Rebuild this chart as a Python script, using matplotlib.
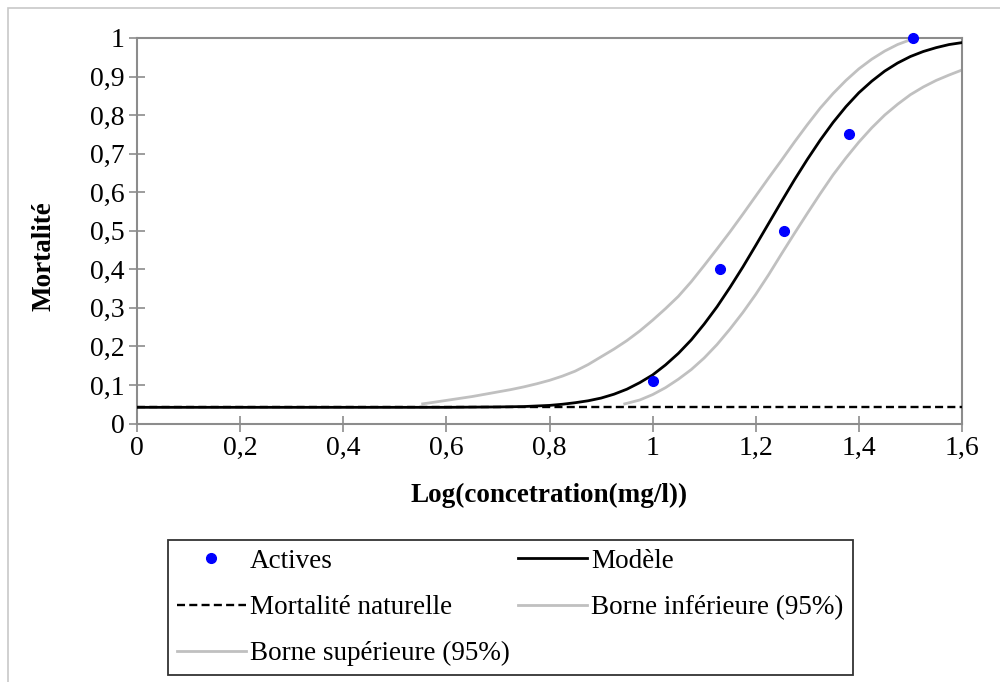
import matplotlib
matplotlib.use("Agg")
import matplotlib.pyplot as plt
from matplotlib.patches import Rectangle

plt.rcParams['font.family'] = ['Liberation Serif', 'DejaVu Serif']

# --- données ---
x_actives = [1.0, 1.130, 1.255, 1.380, 1.505]
y_actives = [0.111, 0.40, 0.50, 0.75, 1.0]

x_modele = [0.0, 0.60, 0.70, 0.75, 0.80, 0.825, 0.85, 0.875, 0.90, 0.925, 0.95, 0.975,
            1.00, 1.025, 1.05, 1.075, 1.10, 1.125, 1.15, 1.175, 1.20, 1.225, 1.25, 1.275,
            1.30, 1.325, 1.35, 1.375, 1.40, 1.425, 1.45, 1.475, 1.50, 1.525, 1.55, 1.575, 1.60]
y_modele = [0.042, 0.042, 0.043, 0.044, 0.047, 0.050, 0.054, 0.059, 0.066, 0.076, 0.089, 0.106,
            0.126, 0.152, 0.182, 0.217, 0.258, 0.303, 0.353, 0.406, 0.462, 0.519, 0.576, 0.632,
            0.685, 0.735, 0.781, 0.822, 0.858, 0.888, 0.914, 0.935, 0.952, 0.965, 0.975, 0.983, 0.988]

x_naturelle = [0.0, 1.6]
y_naturelle = [0.042, 0.042]

x_inf = [0.946, 0.975, 1.00, 1.025, 1.05, 1.075, 1.10, 1.125, 1.15, 1.175, 1.20, 1.225, 1.25,
         1.275, 1.30, 1.325, 1.35, 1.375, 1.40, 1.425, 1.45, 1.475, 1.50, 1.525, 1.55, 1.575, 1.60]
y_inf = [0.051, 0.061, 0.075, 0.093, 0.115, 0.140, 0.170, 0.205, 0.245, 0.288, 0.335, 0.386, 0.440,
         0.493, 0.545, 0.596, 0.645, 0.689, 0.730, 0.767, 0.800, 0.828, 0.853, 0.873, 0.890, 0.904, 0.917]

x_sup = [0.554, 0.575, 0.60, 0.625, 0.65, 0.675, 0.70, 0.725, 0.75, 0.775, 0.80, 0.825, 0.85,
         0.875, 0.90, 0.925, 0.95, 0.975, 1.00, 1.025, 1.05, 1.075, 1.10, 1.125, 1.15, 1.175,
         1.20, 1.225, 1.25, 1.275, 1.30, 1.325, 1.35, 1.375, 1.40, 1.425, 1.45, 1.475, 1.505]
y_sup = [0.051, 0.055, 0.060, 0.065, 0.070, 0.076, 0.082, 0.088, 0.095, 0.103, 0.112, 0.123, 0.136,
         0.153, 0.173, 0.193, 0.215, 0.240, 0.268, 0.298, 0.330, 0.368, 0.410, 0.453, 0.497, 0.543,
         0.590, 0.637, 0.683, 0.730, 0.775, 0.818, 0.856, 0.890, 0.920, 0.945, 0.966, 0.983, 0.998]

x_ticks = [0, 0.2, 0.4, 0.6, 0.8, 1.0, 1.2, 1.4, 1.6]
x_tick_labels = ['0', '0,2', '0,4', '0,6', '0,8', '1', '1,2', '1,4', '1,6']
y_ticks = [0, 0.1, 0.2, 0.3, 0.4, 0.5, 0.6, 0.7, 0.8, 0.9, 1.0]
y_tick_labels = ['0', '0,1', '0,2', '0,3', '0,4', '0,5', '0,6', '0,7', '0,8', '0,9', '1']

# --- figure ---
fig = plt.figure(figsize=(10, 6.82), dpi=100)
ax = fig.add_axes([0.137, 0.379, 0.825, 0.5653])

# cadre extérieur gris
fig.patches.append(Rectangle((0.008, -0.1), 1.2, 0.988 + 0.1, transform=fig.transFigure,
                             fill=False, edgecolor='#c8c8c8', linewidth=1.2))

gris = '#c0c0c0'
l_act, = ax.plot(x_actives, y_actives, 'o', color='#0000ff', markersize=7, label='Actives',
                 zorder=5, clip_on=False)
l_mod, = ax.plot(x_modele, y_modele, color='black', linewidth=2.0, label='Modèle', zorder=4)
l_nat, = ax.plot(x_naturelle, y_naturelle, color='black', linewidth=1.7, linestyle=(0, (3.4, 1.8)),
                 label='Mortalité naturelle', zorder=3)
l_inf, = ax.plot(x_inf, y_inf, color=gris, linewidth=2.0, label='Borne inférieure (95%)', zorder=2)
l_sup, = ax.plot(x_sup, y_sup, color=gris, linewidth=2.0, label='Borne supérieure (95%)', zorder=2)

ax.set_xlim(0, 1.6)
ax.set_ylim(0, 1.0)
ax.set_xticks(x_ticks)
ax.set_xticklabels(x_tick_labels)
ax.set_yticks(y_ticks)
ax.set_yticklabels(y_tick_labels)

for s in ax.spines.values():
    s.set_color('#8c8c8c')
    s.set_linewidth(1.5)
ax.tick_params(direction='inout', length=12, width=1.2, color='#8c8c8c',
               labelsize=20, pad=3)

ax.set_xlabel('Log(concetration(mg/l))', fontsize=19.5, fontweight='bold', labelpad=16)
ax.set_ylabel('Mortalité', fontsize=19.5, fontweight='bold')
ax.yaxis.set_label_coords(-0.098, 0.435)

handles = [l_act, l_nat, l_sup, l_mod, l_inf]
leg = fig.legend(handles=handles, labels=[h.get_label() for h in handles], ncol=2,
                 loc='upper left', bbox_to_anchor=(0.168, 1 - 540 / 682),
                 fontsize=19.5, frameon=True, fancybox=False, edgecolor='black',
                 handlelength=2.55, handletextpad=0.15, columnspacing=0.3,
                 labelspacing=0.78, borderpad=0.33, borderaxespad=0)
leg.get_frame().set_linewidth(1.3)

fig.savefig('out.png', dpi=100, facecolor='white')
